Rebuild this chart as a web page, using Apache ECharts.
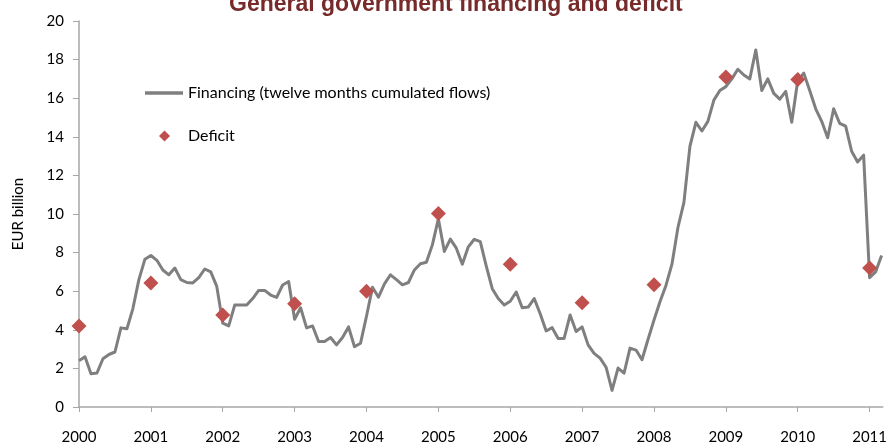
<!DOCTYPE html>
<html>
<head>
<meta charset="utf-8">
<script src="https://cdn.jsdelivr.net/npm/echarts@6/dist/echarts.min.js"></script>
<style>
  html, body { margin: 0; padding: 0; background: #fff; }
  #chart { width: 890px; height: 445px; }
</style>
</head>
<body>
<div id="chart"></div>
<script>
// Monthly financing, twelve-month cumulated flows (EUR billion), Jan 2000 – Mar 2011
const financing = [
  // 2000
  2.4, 2.6, 1.72, 1.76, 2.5, 2.72, 2.85, 4.1, 4.05, 5.1, 6.6, 7.65,
  // 2001
  7.85, 7.6, 7.1, 6.85, 7.2, 6.6, 6.45, 6.43, 6.7, 7.15, 7.0, 6.25,
  // 2002
  4.35, 4.2, 5.28, 5.28, 5.28, 5.62, 6.04, 6.04, 5.8, 5.68, 6.32, 6.5,
  // 2003
  4.55, 5.14, 4.1, 4.2, 3.39, 3.39, 3.6, 3.22, 3.6, 4.15, 3.12, 3.3,
  // 2004
  4.7, 6.2, 5.69, 6.38, 6.85, 6.6, 6.33, 6.45, 7.1, 7.42, 7.5, 8.4,
  // 2005
  9.75, 8.06, 8.7, 8.23, 7.4, 8.3, 8.69, 8.57, 7.3, 6.13, 5.62, 5.28,
  // 2006
  5.48, 5.96, 5.14, 5.18, 5.62, 4.83, 3.94, 4.11, 3.55, 3.55, 4.77, 3.91,
  // 2007
  4.15, 3.22, 2.78, 2.53, 2.06, 0.86, 2.02, 1.75, 3.05, 2.95, 2.45, 3.5,
  // 2008
  4.5, 5.45, 6.3, 7.4, 9.3, 10.6, 13.5, 14.75, 14.3, 14.8, 15.9, 16.4,
  // 2009
  16.6, 17.0, 17.5, 17.2, 17.0, 18.5, 16.4, 17.0, 16.25, 15.95, 16.35, 14.75,
  // 2010
  16.9, 17.3, 16.4, 15.45, 14.8, 13.95, 15.45, 14.7, 14.55, 13.25, 12.7, 13.05,
  // 2011
  6.7, 7.0, 7.85
];

// Annual deficit (EUR billion), plotted at January of each year
const deficitYears = [2000, 2001, 2002, 2003, 2004, 2005, 2006, 2007, 2008, 2009, 2010, 2011];
const deficit = [4.2, 6.43, 4.77, 5.35, 6.0, 10.03, 7.4, 5.4, 6.34, 17.1, 16.97, 7.2];

const yTicks = [0, 2, 4, 6, 8, 10, 12, 14, 16, 18, 20];
const firstYear = 2000;

const seriesNames = ['Financing (twelve months cumulated flows)', 'Deficit'];
const titleText = 'General government financing and deficit';
const yAxisName = 'EUR billion';

const financingData = financing.map((v, i) => [i, v]);
const deficitData = deficitYears.map((y, i) => [(y - firstYear) * 12, deficit[i]]);

const font = 'Lato, "Liberation Sans", sans-serif';
const axisGray = '#a6a6a6';

const chart = echarts.init(document.getElementById('chart'), null, { renderer: 'canvas' });
chart.setOption({
  animation: false,
  backgroundColor: '#ffffff',
  title: {
    text: titleText,
    left: 229,
    top: -7,
    padding: 0,
    textStyle: { color: '#772a2a', fontSize: 23, fontWeight: 'bold', fontFamily: '"Liberation Sans", Arial, sans-serif' }
  },
  legend: [
    {
      data: [{ name: seriesNames[0], icon: 'rect' }],
      orient: 'vertical',
      left: 145,
      top: 85,
      padding: 0,
      itemWidth: 38,
      itemHeight: 3.5,
      itemGap: 5,
      textStyle: { fontFamily: font, fontSize: 16, color: '#000' }
    },
    {
      data: [{ name: seriesNames[1], icon: 'diamond' }],
      orient: 'vertical',
      left: 159,
      top: 128,
      padding: 0,
      itemWidth: 11,
      itemHeight: 11,
      textStyle: { fontFamily: font, fontSize: 16, color: '#000', padding: [0, 0, 0, 13] }
    }
  ],
  grid: { left: 79, right: 4, top: 21, bottom: 33, containLabel: false },
  xAxis: {
    type: 'value',
    min: 0,
    max: 134.2,
    interval: 12,
    axisLine: { lineStyle: { color: axisGray, width: 1.5 } },
    axisTick: { show: true, length: 5, lineStyle: { color: axisGray } },
    splitLine: { show: false },
    axisLabel: {
      margin: 23,
      fontFamily: font,
      fontSize: 15,
      color: '#000',
      showMaxLabel: false,
      formatter: v => (v % 12 === 0 ? String(firstYear + v / 12) : '')
    }
  },
  yAxis: {
    type: 'value',
    min: yTicks[0],
    max: yTicks[yTicks.length - 1],
    interval: yTicks[1] - yTicks[0],
    name: yAxisName,
    nameLocation: 'middle',
    nameGap: 53,
    nameRotate: 90,
    nameTextStyle: { fontFamily: font, fontSize: 15, color: '#000' },
    axisLine: { show: true, lineStyle: { color: axisGray, width: 1.5 } },
    axisTick: { show: true, length: 6, lineStyle: { color: axisGray } },
    splitLine: { show: false },
    axisLabel: { margin: 15, fontFamily: font, fontSize: 15, color: '#000' }
  },
  series: [
    {
      name: seriesNames[0],
      type: 'line',
      data: financingData,
      showSymbol: false,
      symbol: 'none',
      lineStyle: { color: '#7f7f7f', width: 3, join: 'round' },
      itemStyle: { color: '#7f7f7f' },
      z: 2
    },
    {
      name: seriesNames[1],
      type: 'scatter',
      data: deficitData,
      symbol: 'diamond',
      symbolSize: 15,
      itemStyle: { color: '#c0504d', opacity: 1 },
      z: 3
    }
  ]
});
</script>
</body>
</html>
